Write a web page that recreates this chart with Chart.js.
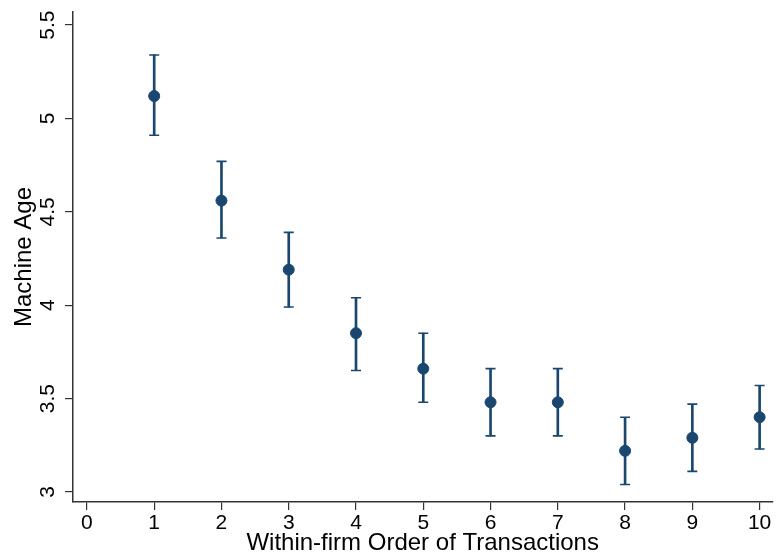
<!DOCTYPE html>
<html>
<head>
<meta charset="utf-8">
<script src="https://cdn.jsdelivr.net/npm/chart.js@4"></script>
<style>
  html, body { margin: 0; padding: 0; background: #fff; }
  #wrap { width: 779px; height: 558px; }
</style>
</head>
<body>
<div id="wrap"><canvas id="chart" width="779" height="558"></canvas></div>
<script>
// data
var order = [1, 2, 3, 4, 5, 6, 7, 8, 9, 10]
var machine_age = [5.12, 4.56, 4.19, 3.85, 3.66, 3.48, 3.48, 3.22, 3.29, 3.40]
var ci_upper = [5.34, 4.77, 4.39, 4.04, 3.85, 3.66, 3.66, 3.40, 3.47, 3.57]
var ci_lower = [4.91, 4.36, 3.99, 3.65, 3.48, 3.30, 3.30, 3.04, 3.11, 3.23]
var x_ticks = [0, 1, 2, 3, 4, 5, 6, 7, 8, 9, 10]
var y_ticks = [3, 3.5, 4, 4.5, 5, 5.5]

var navy = '#1a476f'
var axis_color = '#333333'
var font_family = '"Liberation Sans", Arial, sans-serif'

// y tick labels are turned 90 degrees, like Stata draws them
var rotatedYLabels = {
  id: 'rotatedYLabels',
  afterDraw: function(chart) {
    var ctx = chart.ctx, y = chart.scales.y
    ctx.save()
    ctx.fillStyle = '#000'
    ctx.font = '21px ' + font_family
    ctx.textAlign = 'center'
    ctx.textBaseline = 'alphabetic'
    y_ticks.forEach(function(v) {
      ctx.save()
      ctx.translate(y.right - 19, y.getPixelForValue(v))
      ctx.rotate(-Math.PI / 2)
      ctx.fillText(String(v), 0, 0)
      ctx.restore()
    })
    ctx.restore()
  }
}

new Chart(document.getElementById('chart').getContext('2d'), {
  type: 'scatter',
  data: {
    datasets: [{
      type: 'bar',
      data: order.map((x, i) => ({x: x, y: [ci_lower[i], ci_upper[i]]})),
      backgroundColor: navy,
      barThickness: 2,
      order: 3
    }, {
      data: order.map((x, i) => ({x: x, y: ci_upper[i]}))
        .concat(order.map((x, i) => ({x: x, y: ci_lower[i]}))),
      pointStyle: 'line',
      radius: 5,
      borderColor: navy,
      borderWidth: 1.6,
      order: 2
    }, {
      data: order.map((x, i) => ({x: x, y: machine_age[i]})),
      pointStyle: 'circle',
      radius: 5.5,
      backgroundColor: navy,
      borderColor: navy,
      borderWidth: 1,
      order: 1
    }]
  },
  options: {
    responsive: false,
    animation: false,
    layout: { padding: { top: 12, right: 4, left: 0, bottom: 0 } },
    plugins: {
      legend: { display: false },
      tooltip: { enabled: false }
    },
    scales: {
      x: {
        type: 'linear',
        min: -0.207,
        max: 10.19,
        offset: false,
        afterBuildTicks: s => { s.ticks = x_ticks.map(v => ({value: v})) },
        afterFit: s => { s.height = 56 },
        grid: { offset: false, drawOnChartArea: false, drawTicks: true, tickLength: 8, color: axis_color, lineWidth: 1.2 },
        border: { color: axis_color, width: 1.5 },
        ticks: { color: '#000', padding: 1, maxRotation: 0, font: { family: font_family, size: 21 } },
        title: {
          display: true,
          text: 'Within-firm Order of Transactions',
          color: '#000',
          padding: { top: 0, bottom: 0 },
          font: { family: font_family, size: 24 }
        }
      },
      y: {
        type: 'linear',
        min: 2.946,
        max: 5.57,
        afterBuildTicks: s => { s.ticks = y_ticks.map(v => ({value: v})) },
        afterFit: s => { s.width = 73 },
        grid: { drawOnChartArea: false, drawTicks: true, tickLength: 8, color: axis_color, lineWidth: 1.2 },
        border: { color: axis_color, width: 1.5 },
        ticks: { display: false },
        title: {
          display: true,
          text: 'Machine Age',
          color: '#000',
          padding: { top: 10, bottom: 0 },
          font: { family: font_family, size: 24 }
        }
      }
    }
  },
  plugins: [rotatedYLabels]
})
</script>
</body>
</html>
